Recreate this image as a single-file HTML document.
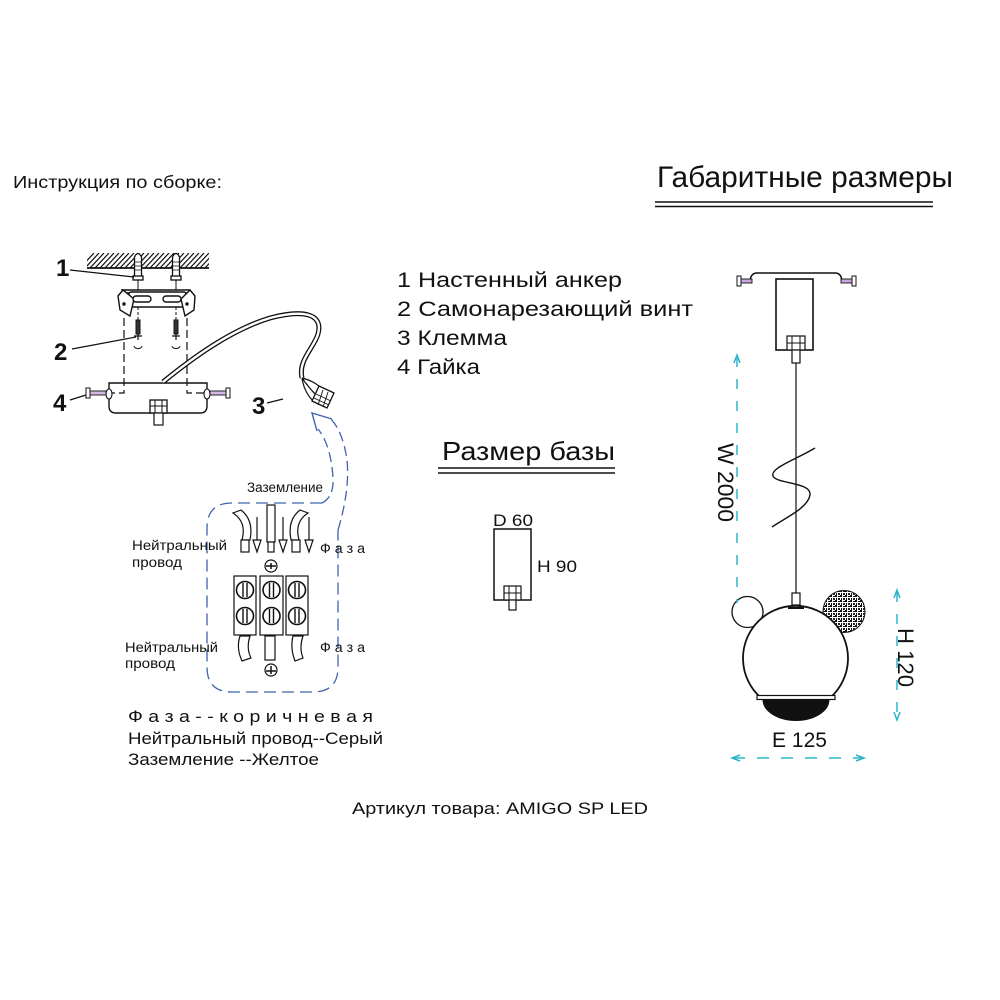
<!DOCTYPE html>
<html><head><meta charset="utf-8">
<style>
html,body{margin:0;padding:0;background:#fff;}
svg{display:block;}
text{font-family:"Liberation Sans","DejaVu Sans",sans-serif;fill:#111;}
</style></head>
<body>
<svg width="1000" height="1000" viewBox="0 0 1000 1000" xmlns="http://www.w3.org/2000/svg">
<defs>
  <clipPath id="hc"><rect x="87" y="253" width="122" height="15"/></clipPath>
  <pattern id="tex" width="5" height="5" patternUnits="userSpaceOnUse">
    <rect width="5" height="5" fill="#fff"/>
    <rect x="0" y="0" width="2" height="2" fill="#111"/>
    <rect x="3" y="1" width="2" height="1" fill="#111"/>
    <rect x="1" y="3" width="1" height="2" fill="#111"/>
    <rect x="3" y="3" width="2" height="2" fill="#222"/>
  </pattern>
</defs>

<!-- Headings -->
<text x="13" y="188" font-size="17.5" textLength="209" lengthAdjust="spacingAndGlyphs">Инструкция по сборке:</text>
<text x="657" y="187" font-size="30" textLength="296" lengthAdjust="spacingAndGlyphs">Габаритные размеры</text>
<line x1="655" y1="202" x2="933" y2="202" stroke="#111" stroke-width="1.5"/>
<line x1="655" y1="206.5" x2="933" y2="206.5" stroke="#111" stroke-width="1.5"/>

<!-- List -->
<text x="397" y="287" font-size="21.5" textLength="225" lengthAdjust="spacingAndGlyphs">1 Настенный анкер</text>
<text x="397" y="316" font-size="21.5" textLength="296" lengthAdjust="spacingAndGlyphs">2 Самонарезающий винт</text>
<text x="397" y="345" font-size="21.5" textLength="110" lengthAdjust="spacingAndGlyphs">3 Клемма</text>
<text x="397" y="374" font-size="21.5" textLength="83" lengthAdjust="spacingAndGlyphs">4 Гайка</text>

<!-- Base size -->
<text x="442" y="460" font-size="26" textLength="173" lengthAdjust="spacingAndGlyphs">Размер базы</text>
<line x1="438" y1="468" x2="615" y2="468" stroke="#111" stroke-width="1.5"/>
<line x1="438" y1="473" x2="615" y2="473" stroke="#111" stroke-width="1.5"/>
<text x="493" y="526" font-size="17" textLength="40" lengthAdjust="spacingAndGlyphs">D 60</text>
<text x="537" y="572" font-size="17" textLength="40" lengthAdjust="spacingAndGlyphs">H 90</text>
<rect x="494" y="529" width="37" height="71" fill="none" stroke="#111" stroke-width="1.5"/>
<rect x="504" y="586" width="17" height="14" fill="#fff" stroke="#111" stroke-width="1.2"/>
<line x1="509" y1="586" x2="509" y2="600" stroke="#111"/>
<line x1="516" y1="586" x2="516" y2="600" stroke="#111"/>
<line x1="504" y1="593" x2="521" y2="593" stroke="#111"/>
<rect x="509" y="600" width="7" height="10" fill="#fff" stroke="#111" stroke-width="1.2"/>

<!-- ===== Left assembly drawing ===== -->
<g stroke="#111" fill="none">
  <line x1="87" y1="268" x2="209" y2="268" stroke-width="1.8"/>
  <g clip-path="url(#hc)" stroke-width="1.2">
    <path d="M80,268 l14,-15 M85,268 l14,-15 M90,268 l14,-15 M95,268 l14,-15 M100,268 l14,-15 M105,268 l14,-15 M110,268 l14,-15 M115,268 l14,-15 M120,268 l14,-15 M125,268 l14,-15 M130,268 l14,-15 M135,268 l14,-15 M140,268 l14,-15 M145,268 l14,-15 M150,268 l14,-15 M155,268 l14,-15 M160,268 l14,-15 M165,268 l14,-15 M170,268 l14,-15 M175,268 l14,-15 M180,268 l14,-15 M185,268 l14,-15 M190,268 l14,-15 M195,268 l14,-15 M200,268 l14,-15 M205,268 l14,-15"/>
  </g>
  <!-- anchors -->
  <g fill="#fff" stroke-width="1.3">
    <path d="M134.5,277 L134.5,257 Q138,250 141.5,257 L141.5,277 Z"/>
    <rect x="133" y="276" width="10" height="4"/>
    <path d="M172.5,277 L172.5,257 Q176,250 179.5,257 L179.5,277 Z"/>
    <rect x="171" y="276" width="10" height="4"/>
  </g>
  <path d="M135,262 h6 M135,266 h6 M135,270 h6 M173,262 h6 M173,266 h6 M173,270 h6" stroke-width="0.8"/>
  <line x1="138" y1="280" x2="138" y2="292" stroke-width="1"/>
  <line x1="176" y1="280" x2="176" y2="292" stroke-width="1"/>
  <!-- bracket -->
  <g fill="#fff" stroke-width="1.4">
    <path d="M122,290 L190,290 L192,293 L124,293 Z"/>
    <rect x="129" y="292" width="57" height="15" rx="2"/>
    <path d="M118,296 L123,290 L134,299 L130,316 L120,310 Z"/>
    <path d="M195,296 L190,290 L181,299 L185,316 L194,310 Z"/>
    <rect x="133" y="296" width="18" height="6" rx="3"/>
    <rect x="163" y="296" width="18" height="6" rx="3"/>
  </g>
  <circle cx="124" cy="304" r="1.2" fill="#111"/>
  <circle cx="187" cy="304" r="1.2" fill="#111"/>
  <!-- screws -->
  <line x1="138" y1="307" x2="138" y2="320" stroke-dasharray="3 2"/>
  <line x1="176" y1="307" x2="176" y2="320" stroke-dasharray="3 2"/>
  <rect x="136" y="320" width="4" height="14" fill="#333" stroke-width="1"/>
  <rect x="174" y="320" width="4" height="14" fill="#333" stroke-width="1"/>
  <path d="M134,336 h8 M138,334 v6 M172,336 h8 M176,334 v6" stroke-width="1.2"/>
  <path d="M134,346 a4,2.5 0 1 0 8,0 M172,346 a4,2.5 0 1 0 8,0" stroke-width="1"/>
  <!-- dashed guides -->
  <path d="M124,318 L124,393 L112,393 M187,318 L187,393 L205,393" stroke-dasharray="8 4" stroke-width="1.2"/>
  <!-- lower box -->
  <path d="M109,383 L207,383 L207,406 Q207,413 200,413 L116,413 Q109,413 109,406 Z" fill="none" stroke-width="1.4"/>
  <ellipse cx="109" cy="394" rx="3" ry="5" fill="#fff" stroke-width="1.1"/>
  <ellipse cx="207" cy="394" rx="3" ry="5" fill="#fff" stroke-width="1.1"/>
  <rect x="90" y="391" width="16" height="4" fill="#d6b8e4" stroke-width="0.9"/>
  <rect x="86" y="388" width="4" height="10" fill="#fff" stroke-width="1"/>
  <rect x="210" y="391" width="16" height="4" fill="#d6b8e4" stroke-width="0.9"/>
  <rect x="226" y="388" width="4" height="10" fill="#fff" stroke-width="1"/>
  <!-- nut -->
  <rect x="150" y="400" width="17" height="13" fill="#fff" stroke-width="1.3"/>
  <path d="M155,400 v13 M162,400 v13 M150,406 h17" stroke-width="1"/>
  <rect x="154" y="413" width="9" height="12" fill="#fff" stroke-width="1.2"/>
  <!-- cable -->
  <path d="M163,382 C190,360 230,330 270,318 C300,310 324,312 318,334 C314,348 298,360 302,378" stroke="#111" stroke-width="5"/>
  <path d="M163,382 C190,360 230,330 270,318 C300,310 324,312 318,334 C314,348 298,360 302,378" stroke="#fff" stroke-width="2.4"/>
  <path d="M302,378 Q314,381 321,388 M302,378 Q309,388 317,396 M302,378 Q304,392 313,401" stroke-width="1.2"/>
  <path d="M319,386 L334,393 L327,408 L312,401 Z" fill="#fff" stroke-width="1.3"/>
  <path d="M316,394 L331,401 M314,398 L329,405 M323,390 L318,405 M328,392 L323,407" stroke-width="0.9"/>
  <!-- label lines -->
  <line x1="70" y1="270" x2="134" y2="277" stroke-width="1.2"/>
  <line x1="72" y1="349" x2="136" y2="337" stroke-width="1.2"/>
  <line x1="70" y1="400" x2="86" y2="395" stroke-width="1.2"/>
  <line x1="267" y1="403" x2="283" y2="399" stroke-width="1.2"/>
</g>
<g font-weight="bold" font-size="24">
  <text x="56" y="276">1</text>
  <text x="54" y="360">2</text>
  <text x="53" y="411">4</text>
  <text x="252" y="414">3</text>
</g>

<!-- ===== Connection box ===== -->
<g stroke="#3d64ad" fill="none" stroke-width="1.3">
  <path d="M322,503 L232,503 Q207,503 207,528 L207,667 Q207,692 232,692 L313,692 Q338,692 338,667 L338,530" stroke-dasharray="12 6"/>
  <path d="M322,503 Q334,497 333,478 Q331,445 318,429" stroke-dasharray="10 5"/>
  <path d="M338,530 Q350,490 347,460 Q343,432 331,419" stroke-dasharray="10 5"/>
  <polyline points="317,431 312,413 332,419" stroke-width="1.4"/>
</g>
<g stroke="#111" fill="#fff" stroke-width="1.2">
  <!-- top wires -->
  <path d="M233,513 Q247,522 242,540 L250,540 Q254,520 241,510 Z"/>
  <rect x="241" y="540" width="8" height="12"/>
  <rect x="267" y="505" width="8" height="37"/>
  <rect x="268" y="542" width="6" height="10"/>
  <path d="M308,513 Q294,522 299,540 L291,540 Q287,520 300,510 Z"/>
  <rect x="292" y="540" width="8" height="12"/>
  <!-- arrows -->
  <line x1="257" y1="517" x2="257" y2="541"/>
  <line x1="283" y1="517" x2="283" y2="541"/>
  <line x1="309" y1="517" x2="309" y2="541"/>
  <path d="M253,540 L261,540 L257,552 Z M279,540 L287,540 L283,552 Z M305,540 L313,540 L309,552 Z"/>
  <!-- ground symbols -->
  <circle cx="271" cy="566" r="6"/>
  <path d="M266,566 h10 M271,563 v6" stroke-width="1.5"/>
  <circle cx="271" cy="670" r="6"/>
  <path d="M266,671 h10 M271,666 v8" stroke-width="1.5"/>
  <!-- terminal blocks -->
  <rect x="234" y="576" width="22" height="59"/>
  <rect x="260" y="576" width="23" height="59"/>
  <rect x="286" y="576" width="22" height="59"/>
  <g stroke-width="1.6">
    <circle cx="245" cy="590" r="8.5"/><circle cx="245" cy="616" r="8.5"/>
    <circle cx="271.5" cy="590" r="8.5"/><circle cx="271.5" cy="616" r="8.5"/>
    <circle cx="297" cy="590" r="8.5"/><circle cx="297" cy="616" r="8.5"/>
  </g>
  <path d="M243,583 v14 M247,583 v14 M243,609 v14 M247,609 v14 M269.5,583 v14 M273.5,583 v14 M269.5,609 v14 M273.5,609 v14 M295,583 v14 M299,583 v14 M295,609 v14 M299,609 v14" stroke-width="1.4"/>
  <!-- bottom wires -->
  <path d="M240,636 L250,636 Q246,648 251,658 L242,661 Q236,648 240,636 Z"/>
  <rect x="265" y="636" width="10" height="24"/>
  <path d="M293,636 L303,636 Q299,648 303,658 L295,661 Q290,648 293,636 Z"/>
</g>
<g font-size="13.5">
  <text x="247" y="492" textLength="76" lengthAdjust="spacingAndGlyphs">Заземление</text>
  <text x="132" y="550" textLength="95" lengthAdjust="spacingAndGlyphs">Нейтральный</text>
  <text x="132" y="567" textLength="50" lengthAdjust="spacingAndGlyphs">провод</text>
  <text x="320" y="553" textLength="45" lengthAdjust="spacingAndGlyphs">Ф а з а</text>
  <text x="125" y="652" textLength="93" lengthAdjust="spacingAndGlyphs">Нейтральный</text>
  <text x="125" y="668" textLength="50" lengthAdjust="spacingAndGlyphs">провод</text>
  <text x="320" y="652" textLength="45" lengthAdjust="spacingAndGlyphs">Ф а з а</text>
</g>

<!-- legend -->
<g font-size="17">
  <text x="128" y="722" textLength="245" lengthAdjust="spacingAndGlyphs">Ф а з а - - к о р и ч н е в а я</text>
  <text x="128" y="744" textLength="255" lengthAdjust="spacingAndGlyphs">Нейтральный провод--Серый</text>
  <text x="128" y="765" textLength="191" lengthAdjust="spacingAndGlyphs">Заземление --Желтое</text>
  <text x="352" y="814" textLength="296" lengthAdjust="spacingAndGlyphs">Артикул товара: AMIGO SP LED</text>
</g>

<!-- ===== Right dimension drawing ===== -->
<g stroke="#111" fill="none">
  <path d="M750,283 Q750,273 757,273 L835,273 Q842,273 842,283" stroke-width="1.5"/>
  <rect x="741" y="279" width="11" height="4" fill="#c9a6dc" stroke-width="0.9"/>
  <rect x="737" y="276" width="4" height="10" fill="#fff" stroke-width="1"/>
  <rect x="841" y="279" width="11" height="4" fill="#c9a6dc" stroke-width="0.9"/>
  <rect x="852" y="276" width="4" height="10" fill="#fff" stroke-width="1"/>
  <rect x="776" y="279" width="37" height="71" stroke-width="1.6"/>
  <rect x="787" y="336" width="18" height="14" fill="#fff" stroke-width="1.2"/>
  <path d="M792,336 v14 M800,336 v14 M787,343 h18" stroke-width="1"/>
  <rect x="792" y="350" width="8" height="13" fill="#fff" stroke-width="1.2"/>
  <line x1="796" y1="363" x2="796" y2="594" stroke-width="1.2"/>
  <path d="M815,448 C795,460 770,468 773,476 C776,484 812,482 810,495 C808,508 785,518 772,527" stroke-width="1.4"/>
  <!-- ears -->
  <circle cx="747.5" cy="612" r="15.5" fill="#fff" stroke-width="1.3"/>
  <circle cx="844" cy="611.5" r="21" fill="url(#tex)" stroke-width="1"/>
  <!-- ball -->
  <path d="M760,697 A52.5,52.5 0 1 1 831,697 Z" fill="#fff" stroke-width="1.8"/>
  <rect x="792" y="593" width="8" height="12" fill="#fff" stroke-width="1.2"/>
  <path d="M788,608 L804,608" stroke-width="2"/>
  <rect x="757" y="695.5" width="78" height="4" fill="#fff" stroke-width="1.2"/>
  <path d="M763,699.5 A33,21 0 0 0 829,699.5 Z" fill="#111" stroke-width="1"/>
</g>
<!-- dimensions -->
<g stroke="#2bb5c8" stroke-width="1.5" fill="none">
  <line x1="737" y1="357" x2="737" y2="603" stroke-dasharray="10 12"/>
  <polyline points="734,363 737,355 740,363"/>
  <line x1="897" y1="592" x2="897" y2="718" stroke-dasharray="10 12"/>
  <polyline points="894,598 897,590 900,598"/>
  <polyline points="894,712 897,720 900,712"/>
  <line x1="733" y1="758" x2="863" y2="758" stroke-dasharray="12 12"/>
  <polyline points="740,755 732,758 740,761"/>
  <polyline points="856,755 864,758 856,761"/>
</g>
<text transform="translate(718,443) rotate(90)" font-size="22" textLength="79" lengthAdjust="spacingAndGlyphs">W 2000</text>
<text transform="translate(898,628) rotate(90)" font-size="22" textLength="59" lengthAdjust="spacingAndGlyphs">H 120</text>
<text x="772" y="747" font-size="21" textLength="55" lengthAdjust="spacingAndGlyphs">E 125</text>
</svg>
</body></html>
